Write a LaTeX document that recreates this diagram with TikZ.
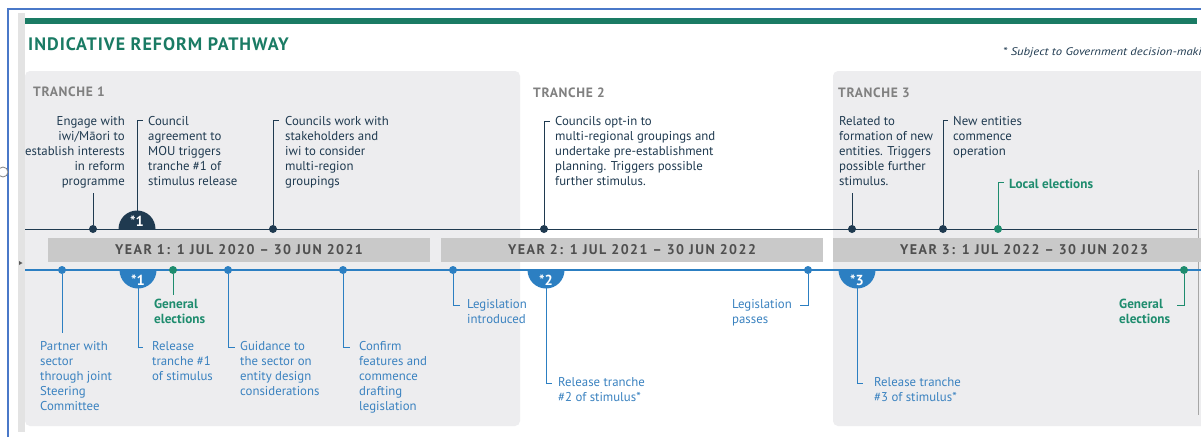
\documentclass[tikz,border=0pt]{standalone}
\usepackage{fontspec}
\setmainfont{PT Sans}
\definecolor{cteal}{HTML}{1A7B64}
\definecolor{cnavy}{HTML}{1F3A50}
\definecolor{cblue}{HTML}{2C7FC2}
\definecolor{cltblue}{HTML}{3A82C0}
\definecolor{cgreen}{HTML}{1E8C6E}
\definecolor{cpanel}{HTML}{EDEDEF}
\definecolor{cyear}{HTML}{C9C9C9}
\definecolor{cyeartext}{HTML}{4F4F4F}
\definecolor{ctranche}{HTML}{808080}
\definecolor{cframe}{HTML}{4A78C8}
\begin{document}
\begin{tikzpicture}[x=1pt,y=-1pt,
  uplab/.style={inner sep=0pt, text=cnavy, font=\fontsize{12.8}{15}\selectfont},
  lowlab/.style={inner sep=0pt, text=cltblue, font=\fontsize{12.8}{15}\selectfont},
  grlab/.style={inner sep=0pt, text=cgreen, font=\bfseries\fontsize{13.2}{15}\selectfont},
  navydot/.style={circle, fill=cnavy, inner sep=0pt, minimum size=8pt},
  bluedot/.style={circle, fill=cblue, inner sep=0pt, minimum size=8pt},
  greendot/.style={circle, fill=cgreen, inner sep=0pt, minimum size=8pt},
  navyline/.style={draw=cnavy, line width=1pt},
  blueline/.style={draw=cblue, line width=1pt},
  greenline/.style={draw=cgreen, line width=1pt},
  yearbar/.style={fill=cyear, minimum width=382pt, minimum height=24pt, inner sep=0pt,
     text=cyeartext, font=\bfseries\fontsize{14}{14}\selectfont\addfontfeature{LetterSpace=10.5}},
  tranche/.style={anchor=west, inner sep=0pt, text=ctranche,
     font=\bfseries\fontsize{13.5}{13.5}\selectfont\addfontfeature{LetterSpace=5}},
  badgetxt/.style={inner sep=0pt, text=white, font=\bfseries\fontsize{14.5}{14.5}\selectfont}
]
\clip (0,0) rectangle (1201,437);
\fill[white] (0,0) rectangle (1201,437);
% screenshot frame
\draw[cframe, line width=1.5pt] (8,437) -- (8,9) -- (1201,9);
\fill[gray!22] (18,13) rectangle (25,432);
\draw[gray, fill=white, line width=0.8pt] (3,172) circle (5pt);
\fill[gray!70!black] (19,261) -- (22.5,263) -- (19,265) -- cycle;
% panels
\fill[cpanel, rounded corners=5pt] (25,71) rectangle (520,426);
\fill[cpanel, rounded corners=5pt] (833,71) rectangle (1215,426);
\draw[gray!70, line width=1pt] (1198,170) -- (1198,415);
% top bar and title
\fill[cteal] (25,18) rectangle (1197,24);
\node[anchor=west, inner sep=0pt, text=cteal,
  font=\bfseries\fontsize{18}{18}\selectfont\addfontfeature{LetterSpace=5.5}] (title) at (28,44) {INDICATIVE REFORM PATHWAY};
\node[anchor=west, inner sep=0pt, text=cnavy, font=\itshape\fontsize{11}{11}\selectfont\addfontfeature{FakeStretch=1.15}] (note) at (1003,53) {* Subject to Government decision-maki};
% tranche headings
\node[tranche] (t1) at (33,92) {TRANCHE 1};
\node[tranche] (t2) at (533,93) {TRANCHE 2};
\node[tranche] (t3) at (838,93) {TRANCHE 3};
% upper timeline
\coordinate (ua) at (25,229);
\coordinate (ub) at (1197,229);
\draw[navyline] (ua) -- (ub);
% year bars
\node[yearbar] (y1) at (239,249.5) {YEAR 1: 1 JUL 2020 – 30 JUN 2021};
\node[yearbar] (y2) at (632,249.5) {YEAR 2: 1 JUL 2021 – 30 JUN 2022};
\node[yearbar] (y3) at (1024,249.5) {YEAR 3: 1 JUL 2022 – 30 JUN 2023};
% lower timeline
\coordinate (la) at (25,270);
\coordinate (lb) at (1201,270);
\draw[blueline, line width=1.3pt] (la) -- (lb);
% ---------- upper events ----------
\node[navydot] (u1) at (93,229) {};
\coordinate (u1e) at (93,193);
\draw[navyline] (u1) -- (u1e);
\node[uplab, anchor=north east, align=right] (u1t) at (125,116) {Engage with\\iwi/Māori to\\establish interests\\in reform\\programme};

\fill[cnavy] (118.5,229) arc (180:0:18.5pt) -- cycle;
\node[badgetxt] (b1u) at (137,221) {*1};
\coordinate (b1ut) at (137,211);
\coordinate (b1ue) at (143,120);
\draw[navyline] (b1ut) |- (b1ue);
\node[uplab, anchor=north west, align=left] (b1ul) at (148,116) {Council\\agreement to\\MOU triggers\\tranche \#1 of\\stimulus release};

\node[navydot] (u2) at (273,229) {};
\coordinate (u2e) at (279,120);
\draw[navyline] (u2) |- (u2e);
\node[uplab, anchor=north west, align=left] (u2t) at (285,116) {Councils work with\\stakeholders and\\iwi to consider\\multi-region\\groupings};

\node[navydot] (u3) at (544,229) {};
\coordinate (u3e) at (550,121);
\draw[navyline] (u3) |- (u3e);
\node[uplab, anchor=north west, align=left] (u3t) at (555,116) {Councils opt-in to\\multi-regional groupings and\\undertake pre-establishment\\planning. Triggers possible\\further stimulus.};

\node[navydot] (u4) at (852,229) {};
\coordinate (u4e) at (852,193);
\draw[navyline] (u4) -- (u4e);
\node[uplab, anchor=north west, align=left] (u4t) at (839,116) {Related to\\formation of new\\entities. Triggers\\possible further\\stimulus.};

\node[navydot] (u5) at (943,229) {};
\coordinate (u5e) at (948,120);
\draw[navyline] (u5) |- (u5e);
\node[uplab, anchor=north west, align=left] (u5t) at (953,116) {New entities\\commence\\operation};

\node[greendot] (u6) at (998,229) {};
\coordinate (u6e) at (1004,182);
\draw[greenline] (u6) |- (u6e);
\node[grlab, anchor=west] (u6t) at (1009,184) {Local elections};
% ---------- lower events ----------
\node[bluedot] (l1) at (62,270) {};
\coordinate (l1e) at (62,333);
\draw[blueline] (l1) -- (l1e);
\node[lowlab, anchor=north west, align=left] (l1t) at (40,341) {Partner with\\sector\\through joint\\Steering\\Committee};

\fill[cblue] (119.5,270) arc (180:360:18.5pt) -- cycle;
\node[badgetxt] (b1d) at (138,280) {*1};
\coordinate (b1dt) at (138,288);
\coordinate (b1de) at (143,347);
\draw[blueline] (b1dt) |- (b1de);
\node[lowlab, anchor=north west, align=left] (b1dl) at (152,341) {Release\\tranche \#1\\of stimulus};

\node[greendot] (g1) at (173,270) {};
\coordinate (g1e) at (173,295);
\draw[greenline] (g1) -- (g1e);
\node[grlab, anchor=north west, align=left] (g1t) at (154,299) {General\\elections};

\node[bluedot] (l2) at (228,270) {};
\coordinate (l2e) at (235,347);
\draw[blueline] (l2) |- (l2e);
\node[lowlab, anchor=north west, align=left] (l2t) at (240,341) {Guidance to\\the sector on\\entity design\\considerations};

\node[bluedot] (l3) at (343,270) {};
\coordinate (l3e) at (350,347);
\draw[blueline] (l3) |- (l3e);
\node[lowlab, anchor=north west, align=left] (l3t) at (359,341) {Confirm\\features and\\commence\\drafting\\legislation};

\node[bluedot] (l4) at (453,270) {};
\coordinate (l4e) at (460,305);
\draw[blueline] (l4) |- (l4e);
\node[lowlab, anchor=north west, align=left] (l4t) at (467,299) {Legislation\\introduced};

\fill[cblue] (527.5,270) arc (180:360:18.5pt) -- cycle;
\node[badgetxt] (b2d) at (546,280) {*2};
\coordinate (b2dt) at (546,288);
\coordinate (b2de) at (552,383);
\draw[blueline] (b2dt) |- (b2de);
\node[lowlab, anchor=north west, align=left] (b2dl) at (558,377) {Release tranche\\\#2 of stimulus*};

\node[bluedot] (l5) at (808,270) {};
\coordinate (l5e) at (800,305);
\draw[blueline] (l5) |- (l5e);
\node[lowlab, anchor=north west, align=left] (l5t) at (732,299) {Legislation\\passes};

\fill[cblue] (838.5,270) arc (180:360:18.5pt) -- cycle;
\node[badgetxt] (b3d) at (857,280) {*3};
\coordinate (b3dt) at (857,288);
\coordinate (b3de) at (863,383);
\draw[blueline] (b3dt) |- (b3de);
\node[lowlab, anchor=north west, align=left] (b3dl) at (874,377) {Release tranche\\\#3 of stimulus*};

\node[greendot] (g2) at (1184,270) {};
\coordinate (g2e) at (1177,305);
\draw[greenline] (g2) |- (g2e);
\node[grlab, anchor=north west, align=left] (g2t) at (1119,299) {General\\elections};
\end{tikzpicture}
\end{document}
